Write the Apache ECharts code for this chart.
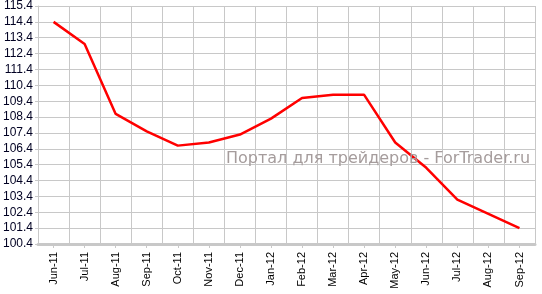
<!DOCTYPE html>
<html>
<head>
<meta charset="utf-8">
<script src="https://cdn.jsdelivr.net/npm/echarts@6/dist/echarts.min.js"></script>
<style>
html,body{margin:0;padding:0;background:#fff;}
#chart{width:542px;height:294px;}
</style>
</head>
<body>
<div id="chart"></div>
<script>
var categories = ['Jun-11','Jul-11','Aug-11','Sep-11','Oct-11','Nov-11','Dec-11','Jan-12','Feb-12','Mar-12','Apr-12','May-12','Jun-12','Jul-12','Aug-12','Sep-12'];
var values = [114.4, 113.0, 108.6, 107.5, 106.6, 106.8, 107.3, 108.3, 109.6, 109.8, 109.8, 106.8, 105.2, 103.2, 102.3, 101.4];
var watermark = 'Портал для трейдеров - ForTrader.ru';

var chart = echarts.init(document.getElementById('chart'), null, {renderer: 'canvas'});
chart.setOption({
  animation: false,
  backgroundColor: '#ffffff',
  grid: {left: 35, right: 7, top: 6, bottom: 50, containLabel: false},
  xAxis: {
    type: 'category',
    data: categories,
    boundaryGap: true,
    axisLine: {show: true, lineStyle: {color: '#c8c8c8', width: 3}},
    axisTick: {show: true, alignWithLabel: true, length: 4, lineStyle: {color: '#c8c8c8', width: 1}},
    axisLabel: {rotate: 90, interval: 0, color: '#000000', fontFamily: 'Arial, Liberation Sans, sans-serif', fontSize: 11, margin: 8},
    splitLine: {show: true, interval: 0, lineStyle: {color: '#c8c8c8', width: 1}}
  },
  yAxis: {
    type: 'value',
    min: 100.4,
    max: 115.4,
    interval: 1,
    axisLine: {show: true, lineStyle: {color: '#c8c8c8', width: 1}},
    axisTick: {show: true, length: 3, lineStyle: {color: '#c8c8c8'}},
    axisLabel: {color: '#000022', fontFamily: 'Arial, Liberation Sans, sans-serif', fontSize: 12, margin: 5,
      formatter: function(v){ return v.toFixed(1); }},
    splitLine: {show: true, lineStyle: {color: '#c8c8c8', width: 1}}
  },
  graphic: [{
    type: 'text',
    left: 226,
    top: 151,
    z: 100,
    style: {text: watermark, fill: '#a59c9c', font: '16px "DejaVu Sans", Verdana, sans-serif'}
  }],
  series: [{
    type: 'line',
    data: values,
    symbol: 'none',
    smooth: false,
    lineStyle: {color: '#ff0000', width: 2.5},
    z: 3
  }]
});
</script>
</body>
</html>
